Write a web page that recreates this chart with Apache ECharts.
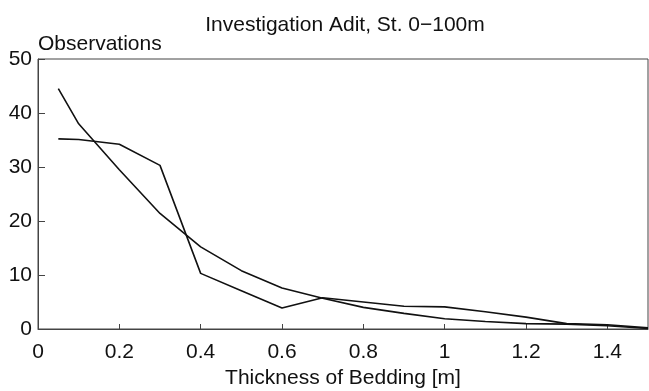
<!DOCTYPE html>
<html>
<head>
<meta charset="utf-8">
<script src="https://cdn.jsdelivr.net/npm/echarts@6/dist/echarts.min.js"></script>
<style>
  html, body { margin: 0; padding: 0; background: #fff; }
  #chart { width: 649px; height: 391px; }
</style>
</head>
<body>
<div id="chart"></div>
<script>
// thickness classes [m]
const thickness = [0.05, 0.1, 0.2, 0.3, 0.4, 0.5, 0.6, 0.7, 0.8, 0.9, 1.0, 1.1, 1.2, 1.3, 1.4, 1.5];
// steep curve (starts ~44)
const seriesA = [44.5, 38, 29.5, 21.4, 15.2, 10.8, 7.6, 5.7, 4.0, 2.9, 1.9, 1.4, 1.0, 0.9, 0.6, 0.1];
// flat-topped curve (starts ~35)
const seriesB = [35.2, 35.1, 34.2, 30.3, 10.3, 7.1, 3.9, 5.8, 5.0, 4.2, 4.1, 3.2, 2.2, 1.0, 0.8, 0.2];

const font = 'Liberation Sans, Arial, sans-serif';

function pairs(xs, ys) {
  return xs.map(function (x, i) { return [x, ys[i]]; });
}

const chart = echarts.init(document.getElementById('chart'));

const option = {
  animation: false,
  backgroundColor: '#fff',
  title: {
    text: 'Investigation Adit, St. 0\u2212100m',
    left: 340,
    top: 10,
    textAlign: 'center',
    textStyle: { fontFamily: font, fontSize: 21, fontWeight: 'normal', color: '#111' }
  },
  grid: {
    left: 38, right: 1, top: 59, bottom: 62,
    containLabel: false,
    outerBoundsMode: 'none',
    show: true, borderColor: '#444', borderWidth: 1
  },
  xAxis: {
    type: 'value',
    min: 0, max: 1.5, interval: 0.2,
    name: 'Thickness of Bedding [m]',
    nameLocation: 'middle',
    nameGap: 46,
    nameTextStyle: { fontFamily: font, fontSize: 21, color: '#111', verticalAlign: 'middle' },
    axisLine: { lineStyle: { color: '#444', width: 1 } },
    axisTick: { inside: true, length: 5, lineStyle: { color: '#444' } },
    axisLabel: {
      fontFamily: font, fontSize: 21, color: '#111', margin: 13,
      showMaxLabel: false,
      formatter: function (v) { return String(Math.round(v * 10) / 10); }
    },
    splitLine: { show: false }
  },
  yAxis: {
    type: 'value',
    min: 0, max: 50, interval: 10,
    name: 'Observations',
    nameLocation: 'end',
    nameGap: 15,
    nameTextStyle: { fontFamily: font, fontSize: 21, color: '#111', align: 'left', verticalAlign: 'middle' },
    axisLine: { lineStyle: { color: '#444', width: 1 } },
    axisTick: { inside: true, length: 7, lineStyle: { color: '#444' } },
    axisLabel: { fontFamily: font, fontSize: 21, color: '#111', margin: 6 },
    splitLine: { show: false }
  },
  series: [
    {
      type: 'line',
      data: pairs(thickness, seriesA),
      showSymbol: false,
      lineStyle: { color: '#111', width: 1.6 }
    },
    {
      type: 'line',
      data: pairs(thickness, seriesB),
      showSymbol: false,
      lineStyle: { color: '#111', width: 1.6 }
    }
  ]
};

chart.setOption(option);
</script>
</body>
</html>
